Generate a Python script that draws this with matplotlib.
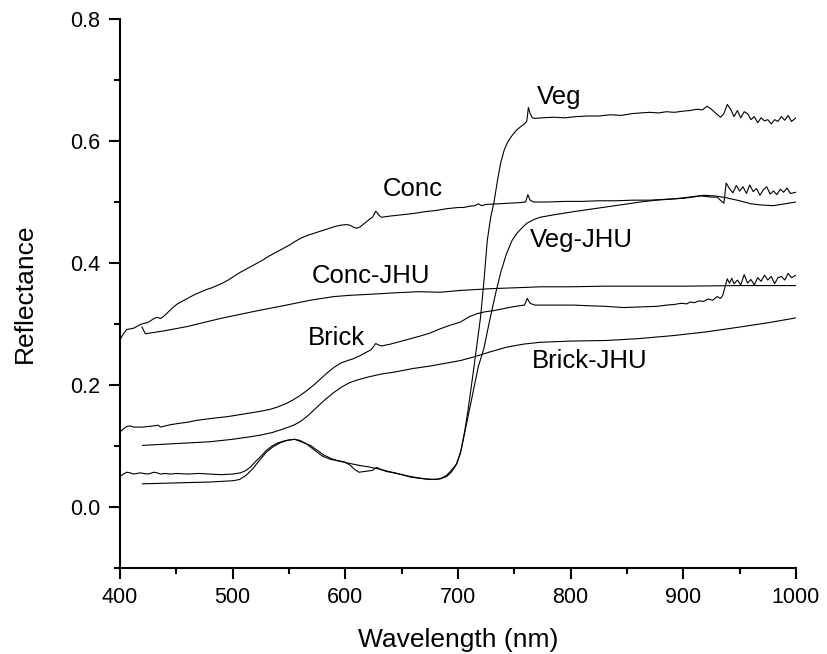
import numpy as np
import matplotlib
matplotlib.use("Agg")
import matplotlib.pyplot as plt
from matplotlib.ticker import MultipleLocator

plt.rcParams["font.family"] = ["Liberation Sans", "DejaVu Sans"]

# Measured spectra (noisy) and JHU library spectra (smooth)
veg_wl = [400, 403, 406, 409, 412, 415, 418, 421, 425, 430, 433, 436, 440, 445, 450, 460,
          470, 480, 490, 500, 507, 512, 516, 520, 525, 530, 535, 540, 545, 550, 555, 560,
          565, 570, 575, 580, 587, 593, 599, 604, 608, 612, 616, 620, 624, 628, 632, 637,
          643, 650, 658, 666, 675, 684, 690, 694, 698, 702, 706, 709, 712, 716, 720, 723,
          726, 729, 732, 735, 738, 741, 744, 748, 752, 756, 759, 761, 762.5, 764, 766, 768,
          775, 785, 795, 805, 815, 825, 835, 845, 855, 862, 870, 878, 885, 892, 900, 906,
          912, 917, 921, 925, 929, 933, 936, 939, 942, 945, 948, 951, 954, 957, 960, 963,
          966, 969, 972, 975, 978, 981, 984, 987, 990, 993, 996, 1000]
veg = [0.050, 0.054, 0.057, 0.056, 0.054, 0.055, 0.056, 0.055, 0.054, 0.057, 0.056, 0.054,
       0.055, 0.054, 0.055, 0.054, 0.055, 0.054, 0.053, 0.054, 0.056, 0.060, 0.066, 0.074,
       0.083, 0.093, 0.100, 0.105, 0.108, 0.110, 0.111, 0.109, 0.104, 0.097, 0.090, 0.083,
       0.078, 0.076, 0.074, 0.069, 0.062, 0.057, 0.058, 0.059, 0.060, 0.065, 0.061, 0.058,
       0.056, 0.053, 0.049, 0.047, 0.045, 0.046, 0.050, 0.057, 0.068, 0.087, 0.125, 0.160,
       0.200, 0.255, 0.311, 0.370, 0.437, 0.475, 0.500, 0.535, 0.565, 0.585, 0.598, 0.609,
       0.618, 0.624, 0.628, 0.632, 0.655, 0.645, 0.638, 0.637, 0.638, 0.639, 0.638, 0.640,
       0.641, 0.641, 0.643, 0.642, 0.645, 0.646, 0.647, 0.646, 0.648, 0.647, 0.649, 0.650,
       0.652, 0.651, 0.657, 0.652, 0.645, 0.639, 0.645, 0.660, 0.652, 0.640, 0.650, 0.638,
       0.648, 0.645, 0.635, 0.640, 0.630, 0.638, 0.633, 0.635, 0.628, 0.635, 0.632, 0.640,
       0.634, 0.642, 0.632, 0.638]

veg_jhu_wl = [420, 440, 460, 480, 500, 506, 512, 518, 524, 530, 536, 542, 548, 555, 562, 569,
              575, 581, 588, 595, 605, 613, 620, 628, 637, 646, 655, 664, 672, 680, 685, 690,
              694, 699, 703, 708, 713, 718, 723, 728, 734, 738, 743, 748, 752, 757, 761, 767,
              773, 785, 802, 817, 832, 847, 862, 876, 891, 905, 918, 928, 938, 950, 960, 970,
              980, 990, 1000]
veg_jhu = [0.038, 0.039, 0.040, 0.041, 0.043, 0.045, 0.052, 0.063, 0.077, 0.090, 0.099, 0.105,
           0.109, 0.111, 0.106, 0.101, 0.093, 0.085, 0.079, 0.075, 0.071, 0.068, 0.066, 0.063,
           0.059, 0.055, 0.051, 0.048, 0.046, 0.045, 0.047, 0.052, 0.060, 0.071, 0.095, 0.140,
           0.185, 0.230, 0.260, 0.305, 0.355, 0.385, 0.415, 0.437, 0.448, 0.458, 0.465, 0.471,
           0.475, 0.479, 0.484, 0.488, 0.492, 0.496, 0.500, 0.503, 0.505, 0.508, 0.511, 0.510,
           0.507, 0.502, 0.497, 0.495, 0.494, 0.497, 0.500]

conc_wl = [400, 403, 406, 409, 412, 415, 418, 421, 424, 427, 430, 433, 436, 439, 443, 447,
           451, 456, 461, 466, 471, 476, 481, 486, 491, 496, 501, 506, 511, 516, 521, 526,
           531, 536, 541, 546, 551, 556, 561, 566, 571, 576, 581, 586, 591, 596, 601, 604,
           607, 610, 613, 617, 621, 624, 627, 630, 632, 640, 650, 660, 670, 680, 690, 700,
           705, 710, 715, 718, 721, 725, 735, 745, 755, 760, 762, 764, 767, 780, 795, 810,
           825, 840, 855, 870, 880, 890, 900, 908, 915, 920, 925, 930, 934, 936, 938, 941,
           944, 947, 950, 953, 956, 959, 962, 965, 968, 971, 974, 977, 980, 983, 986, 989,
           992, 995, 1000]
conc = [0.274, 0.284, 0.291, 0.292, 0.293, 0.296, 0.299, 0.301, 0.302, 0.305, 0.309, 0.311,
        0.309, 0.313, 0.320, 0.327, 0.333, 0.338, 0.343, 0.348, 0.352, 0.356, 0.359, 0.363,
        0.367, 0.372, 0.378, 0.384, 0.389, 0.394, 0.399, 0.404, 0.410, 0.415, 0.420, 0.425,
        0.430, 0.436, 0.441, 0.445, 0.448, 0.451, 0.454, 0.457, 0.460, 0.462, 0.463, 0.462,
        0.459, 0.457, 0.459, 0.465, 0.471, 0.475, 0.485, 0.478, 0.475, 0.477, 0.479, 0.481,
        0.484, 0.486, 0.489, 0.491, 0.491, 0.493, 0.494, 0.497, 0.494, 0.496, 0.497, 0.498,
        0.499, 0.500, 0.512, 0.503, 0.500, 0.500, 0.501, 0.501, 0.502, 0.502, 0.503, 0.503,
        0.504, 0.505, 0.506, 0.508, 0.510, 0.509, 0.508, 0.508, 0.501, 0.498, 0.531, 0.522,
        0.515, 0.527, 0.518, 0.525, 0.514, 0.528, 0.517, 0.522, 0.511, 0.520, 0.525, 0.513,
        0.518, 0.512, 0.521, 0.516, 0.523, 0.514, 0.516]

conc_jhu_wl = [419.5, 422.5, 440, 460, 489, 520, 545, 569, 590, 604, 625, 643, 665, 684, 702,
               730, 760, 773, 800, 830, 862, 900, 950, 1000]
conc_jhu = [0.295, 0.284, 0.289, 0.296, 0.309, 0.321, 0.330, 0.339, 0.345, 0.347, 0.349,
            0.351, 0.353, 0.352, 0.355, 0.358, 0.360, 0.361, 0.361, 0.362, 0.362, 0.362,
            0.363, 0.363]

brick_wl = [400, 403, 406, 409, 412, 416, 420, 425, 430, 434, 436, 438, 445, 452, 460, 468,
            476, 485, 495, 505, 515, 525, 533, 540, 548, 554, 560, 566, 572, 578, 584, 590,
            596, 602, 607, 613, 619, 623, 627, 629, 632, 640, 650, 658, 666, 675, 684, 693,
            702, 710, 717, 724, 732, 740, 748, 755, 759, 761.5, 764, 768, 780, 790, 803, 815,
            830, 847, 862, 877, 885, 892, 898, 903, 906, 910, 914, 918, 922, 926, 930, 933,
            935, 937, 939, 941, 943, 945, 948, 951, 954, 957, 960, 963, 966, 969, 972, 975,
            978, 981, 984, 987, 990, 993, 996, 1000]
brick = [0.123, 0.128, 0.132, 0.133, 0.131, 0.131, 0.131, 0.132, 0.133, 0.134, 0.131, 0.132,
         0.135, 0.137, 0.139, 0.142, 0.144, 0.146, 0.148, 0.151, 0.154, 0.157, 0.160, 0.164,
         0.170, 0.176, 0.183, 0.191, 0.200, 0.210, 0.220, 0.229, 0.236, 0.240, 0.243, 0.248,
         0.254, 0.258, 0.268, 0.266, 0.264, 0.267, 0.272, 0.276, 0.280, 0.285, 0.292, 0.298,
         0.303, 0.312, 0.317, 0.320, 0.322, 0.325, 0.328, 0.330, 0.331, 0.342, 0.334, 0.331,
         0.331, 0.331, 0.331, 0.330, 0.329, 0.327, 0.328, 0.329, 0.331, 0.332, 0.334, 0.333,
         0.336, 0.335, 0.338, 0.337, 0.341, 0.339, 0.345, 0.342, 0.347, 0.361, 0.374, 0.367,
         0.375, 0.366, 0.372, 0.364, 0.381, 0.367, 0.373, 0.364, 0.376, 0.370, 0.380, 0.372,
         0.378, 0.366, 0.376, 0.378, 0.372, 0.383, 0.376, 0.380]

brick_jhu_wl = [420, 440, 460, 480, 500, 515, 525, 535, 545, 554, 560, 567, 575, 582, 590, 597,
                604, 612, 620, 632, 643, 660, 675, 690, 702, 714, 728, 743, 758, 773, 800, 832,
                860, 891, 920, 950, 975, 1000]
brick_jhu = [0.101, 0.103, 0.105, 0.107, 0.111, 0.115, 0.118, 0.122, 0.128, 0.134, 0.140,
             0.150, 0.164, 0.176, 0.188, 0.197, 0.204, 0.209, 0.213, 0.218, 0.221, 0.227,
             0.231, 0.236, 0.240, 0.246, 0.254, 0.262, 0.267, 0.270, 0.272, 0.273, 0.276,
             0.281, 0.287, 0.295, 0.302, 0.310]

labels = ["Veg", "Veg-JHU", "Conc", "Conc-JHU", "Brick", "Brick-JHU"]
label_x = [770, 764, 633, 570, 567, 766]
label_y = [0.672, 0.437, 0.522, 0.378, 0.277, 0.240]

fig = plt.figure(figsize=(8.28, 6.54), dpi=100)
ax = fig.add_axes([120 / 828, 1 - 568 / 654, 676 / 828, 549 / 654])

for wl, r in [(veg_wl, veg), (veg_jhu_wl, veg_jhu), (conc_wl, conc),
              (conc_jhu_wl, conc_jhu), (brick_wl, brick), (brick_jhu_wl, brick_jhu)]:
    ax.plot(wl, r, color="black", lw=0.8)

for s, x, y in zip(labels, label_x, label_y):
    ax.text(x, y, s, fontsize=18.5, ha="left", va="center")

ax.set_xlim(400, 1000)
ax.set_ylim(-0.1, 0.8)
ax.xaxis.set_major_locator(MultipleLocator(100))
ax.xaxis.set_minor_locator(MultipleLocator(50))
ax.yaxis.set_major_locator(MultipleLocator(0.2))
ax.yaxis.set_minor_locator(MultipleLocator(0.1))
ax.yaxis.set_major_formatter(plt.FuncFormatter(lambda v, p: f"{v:.1f}"))

for side in ["top", "right"]:
    ax.spines[side].set_visible(False)
for side in ["left", "bottom"]:
    ax.spines[side].set_linewidth(1.5)

ax.tick_params(which="major", direction="out", length=8, width=1.5, labelsize=15.5, pad=6)
ax.tick_params(which="minor", direction="out", length=4.5, width=1.5)

ax.set_xlabel("Wavelength (nm)", fontsize=19, labelpad=14)
ax.set_ylabel("Reflectance", fontsize=19, labelpad=24)

fig.savefig("out.png", dpi=100)
